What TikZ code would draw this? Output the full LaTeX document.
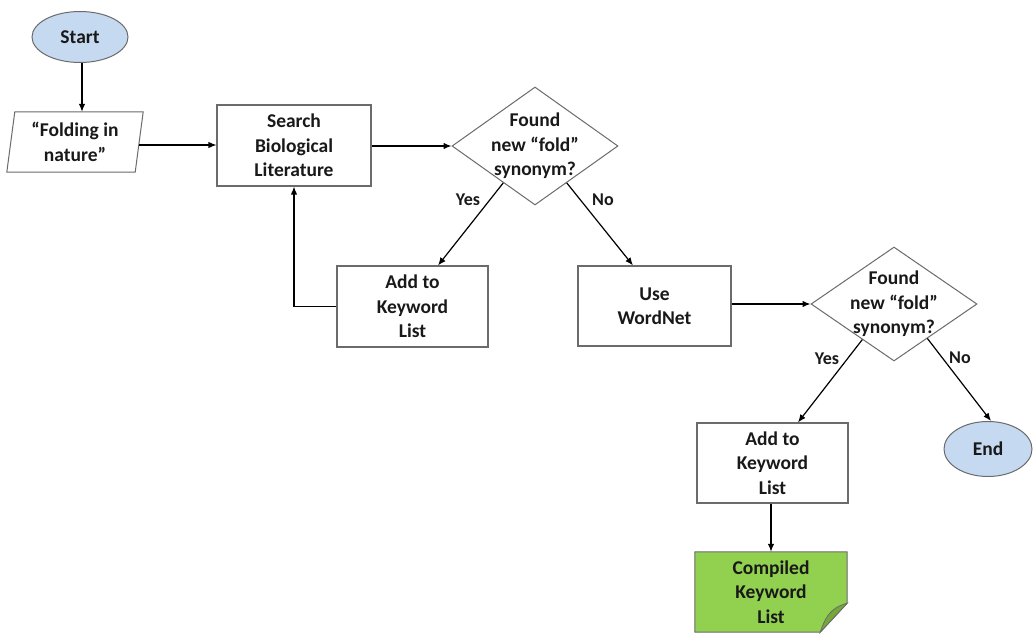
\documentclass[tikz,border=0pt]{standalone}
\usepackage{fontspec}
\setmainfont{Carlito}
\usetikzlibrary{shapes.geometric,arrows.meta,calc}
\definecolor{startblue}{HTML}{C5D9F1}
\definecolor{docgreen}{HTML}{92D050}
\definecolor{folddark}{HTML}{74A83A}
\definecolor{edgegray}{HTML}{6B6B6B}
\begin{document}
\begin{tikzpicture}[x=1pt,y=-1pt,
  every node/.style={font=\bfseries\fontsize{19.5}{24.5}\selectfont, align=center, text=black!90},
  proc/.style={draw=edgegray, line width=1.1pt, fill=white, minimum width=152pt, minimum height=80pt, inner sep=0pt},
  term/.style={ellipse, draw=edgegray, line width=1pt, fill=startblue, inner sep=0pt},
  dia/.style={diamond, draw=edgegray, line width=1pt, inner sep=0pt},
  lbl/.style={font=\bfseries\fontsize{18}{20}\selectfont},
  arr/.style={draw=black, line width=1.2pt, -{Latex[length=8pt,width=6.5pt]}},
  ln/.style={draw=black, line width=1.2pt}]
\useasboundingbox (0,0) rectangle (1034,634);
\fill[white] (0,0) rectangle (1034,634);

% nodes
\node[term, minimum width=96pt, minimum height=51pt] (start) at (80,37) {Start};
\node[minimum width=128pt, minimum height=60pt, inner sep=0pt] (in) at (75,142) {};
\draw[draw=edgegray, line width=1pt, fill=white]
  ($(in.south west)+(-4,0)$) -- ($(in.north west)+(4,0)$) -- ($(in.north east)+(4,0)$) -- ($(in.south east)+(-4,0)$) -- cycle;
\node (intext) at (in) {``Folding in\\nature''};

\node[proc, minimum width=154pt, minimum height=81pt] (search) at (294,145.5) {Search\\Biological\\Literature};
\node[dia, minimum width=166pt, minimum height=118pt] (d1) at (535,146) {};
\node (d1text) at (d1) {Found\\new ``fold''\\synonym?};
\node[proc, minimum width=151pt, minimum height=81pt] (add1) at (412.5,306.5) {Add to\\Keyword\\List};
\node[proc, minimum width=153pt] (wn) at (654.5,306) {Use\\WordNet};
\node[dia, minimum width=166pt, minimum height=114pt] (d2) at (894,304) {};
\node (d2text) at (d2) {Found\\new ``fold''\\synonym?};
\node[proc, minimum width=151pt] (add2) at (772.5,463) {Add to\\Keyword\\List};
\node[term, minimum width=88pt, minimum height=55pt] (end) at (988,449) {End};

% document shape
\node[minimum width=152pt, minimum height=80pt, inner sep=0pt] (comp) at (771,592) {};
\filldraw[draw=edgegray, line width=1pt, fill=docgreen]
  (comp.north west) -- (comp.north east) -- ($(comp.south east)+(0,-29)$)
  -- ($(comp.south east)+(-27,0)$) -- (comp.south west) -- cycle;
\filldraw[draw=edgegray, line width=0.8pt, fill=folddark]
  ($(comp.south east)+(0,-29)$) .. controls ($(comp.south east)+(-18,-24)$) and ($(comp.south east)+(-22,-14)$) .. ($(comp.south east)+(-27,0)$) -- cycle;
\node (comptext) at (comp) {Compiled\\Keyword\\List};

% connectors
\draw[arr] ([xshift=2pt]start.south) -- ([xshift=2pt]start.south |- in.north);
\draw[arr] ($(in.east)+(0,3)$) -- (search.west |- 0,145);
\draw[arr] (search.east |- d1.west) -- (d1.west);
\draw[arr] ($(d1.west)!0.62!(d1.south)$) -- ($(add1.north)+(25.5,0)$);
\draw[arr] ($(d1.east)!0.62!(d1.south)$) -- ($(wn.north)+(-21.5,0)$);
\draw[arr] (add1.west) -| (search.south);
\draw[arr] (wn.east |- d2.west) -- (d2.west);
\draw[arr] ($(d2.west)!0.62!(d2.south)$) -- ($(add2.north)+(25.5,0)$);
\draw[arr] ($(d2.east)!0.6!(d2.south)$) -- ($(end.north)+(3,0)$);
\draw[arr] ([xshift=-1.5pt]add2.south) -- ([xshift=-1.5pt]add2.south |- comp.north);

% labels
\node[lbl] (y1) at (468,200) {Yes};
\node[lbl] (n1) at (603,200) {No};
\node[lbl] (y2) at (827,359) {Yes};
\node[lbl] (n2) at (960,358) {No};
\end{tikzpicture}
\end{document}
